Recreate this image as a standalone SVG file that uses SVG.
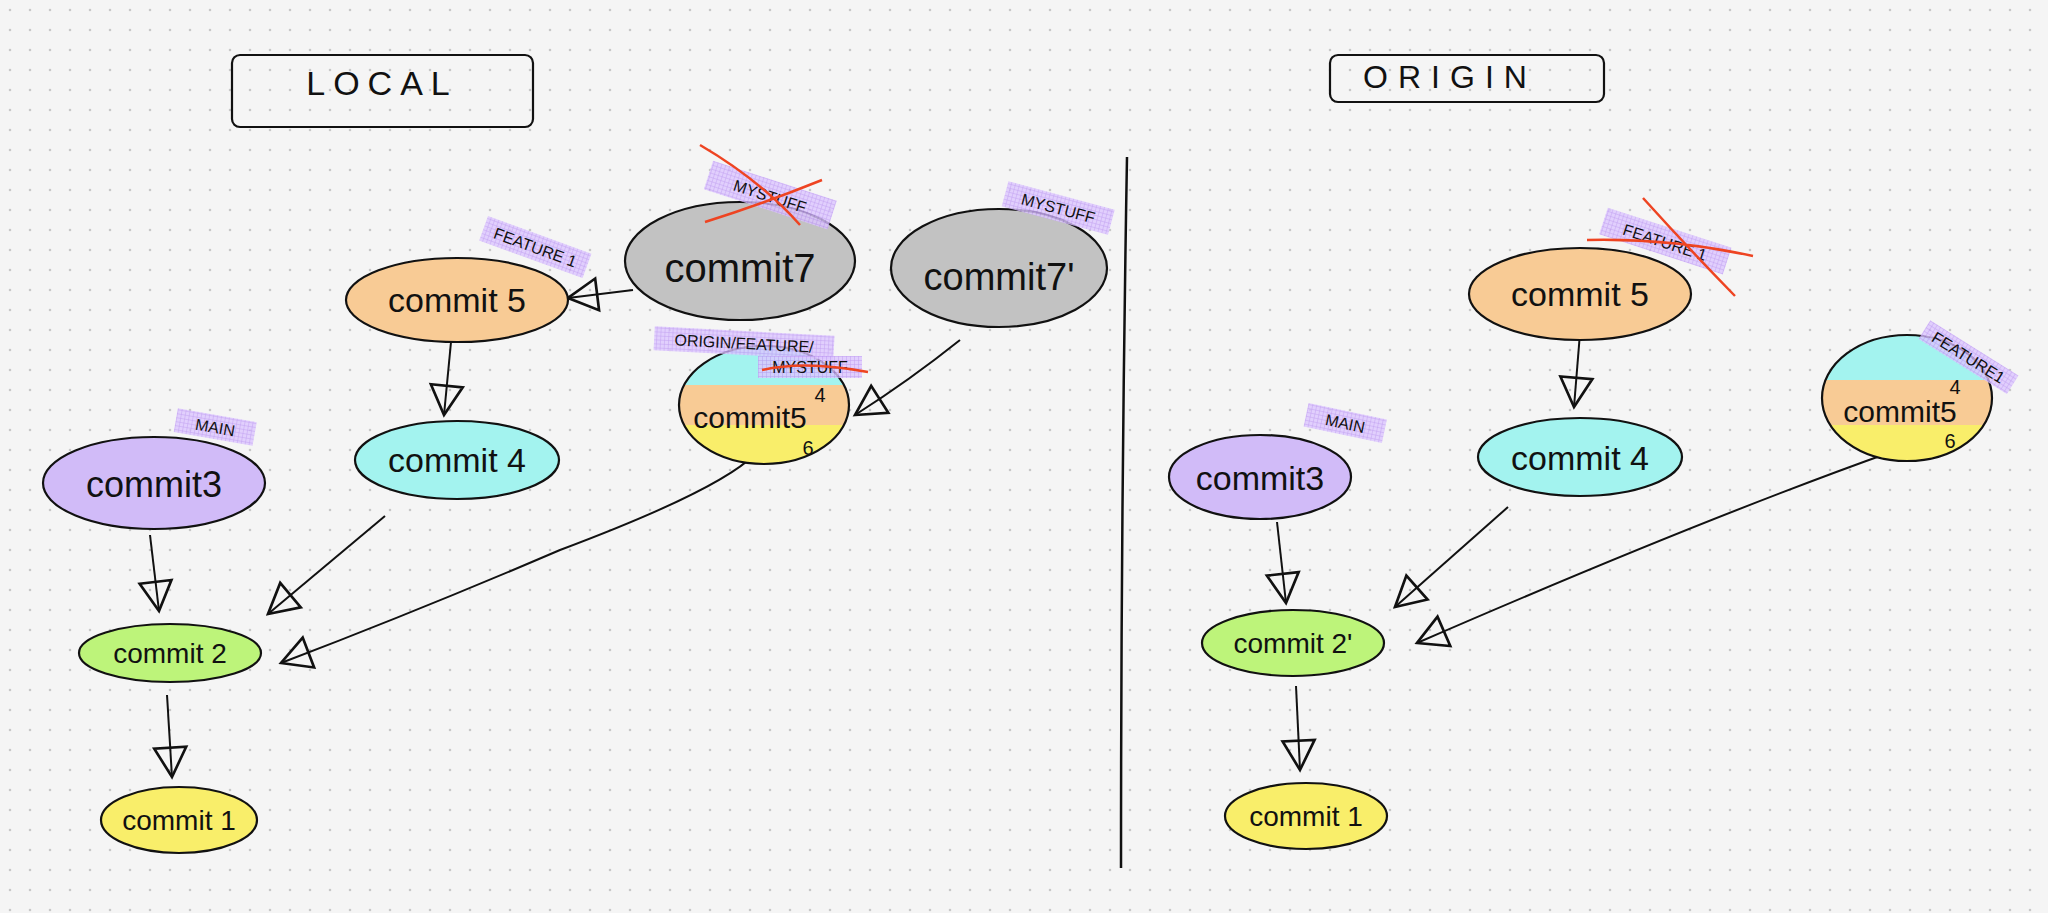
<svg xmlns="http://www.w3.org/2000/svg" width="2048" height="913" viewBox="0 0 2048 913">
<defs>
<pattern id="dots" width="20" height="20" patternUnits="userSpaceOnUse"><circle cx="10" cy="10" r="1.3" fill="#c8c8c8"/></pattern>
<pattern id="grid" width="4" height="4" patternUnits="userSpaceOnUse"><rect width="4" height="4" fill="#dcc6ff"/><path d="M0 0H4M0 0V4" stroke="#b48af0" stroke-width="1"/></pattern>
<marker id="ah" markerWidth="40" markerHeight="40" viewBox="-2 -14 30 28" refX="24" refY="0" orient="auto" markerUnits="userSpaceOnUse"><path d="M24 0 L2 -12 L2 12 Z" fill="none" stroke="#111" stroke-width="2"/></marker>
<clipPath id="c1"><ellipse cx="764" cy="405" rx="85" ry="59"/></clipPath>
<clipPath id="c2"><ellipse cx="1907" cy="398" rx="85" ry="63"/></clipPath>
</defs>
<style>
.n{stroke:#111;stroke-width:2.2}
.t{font-family:"Liberation Sans",sans-serif;fill:#111;text-anchor:middle}
.big{font-size:34px}
.tag{font-size:16px;font-family:"Liberation Sans",sans-serif;fill:#111;text-anchor:middle}
.c{fill:none;stroke:#111;stroke-width:2;marker-end:url(#ah)}
.x{stroke:#ee4422;stroke-width:2.5;fill:none}
</style>
<rect width="2048" height="913" fill="#f5f5f5"/>
<rect width="2048" height="913" fill="url(#dots)"/>

<g id="title-local"><rect x="232" y="55" width="301" height="72" rx="8" fill="none" stroke="#111" stroke-width="2.2"/><text x="382" y="95" class="t" font-size="34" letter-spacing="8">LOCAL</text></g>
<g id="title-origin"><rect x="1330" y="55" width="274" height="47" rx="8" fill="none" stroke="#111" stroke-width="2.2"/><text x="1450" y="88" class="t" font-size="32" letter-spacing="10">ORIGIN</text></g>
<g id="divider"><path d="M1127 157 Q1121 500 1121 868" fill="none" stroke="#111" stroke-width="2.5"/></g>

<g id="connectors">
<path class="c" d="M633 290 L568 298"/>
<path class="c" d="M451 342 L444 415"/>
<path class="c" d="M385 516 L268 614"/>
<path class="c" d="M150 535 L159 611"/>
<path class="c" d="M755 454 Q720 490 560 550 Q420 610 281 663"/>
<path class="c" d="M960 340 Q910 380 855 415"/>
<path class="c" d="M167 695 L172 777"/>
<path class="c" d="M1580 333 L1574 407"/>
<path class="c" d="M1508 507 L1395 607"/>
<path class="c" d="M1277 522 L1286 603"/>
<path class="c" d="M1894 451 Q1700 520 1417 643"/>
<path class="c" d="M1296 686 L1300 770"/>
</g>

<g id="local-commit5"><ellipse cx="457" cy="300" rx="111" ry="42" fill="#f8cb95" class="n"/><text x="457" y="312" class="t big">commit 5</text></g>
<g id="local-commit7"><ellipse cx="740" cy="261" rx="115" ry="59" fill="#c2c2c2" class="n"/><text x="740" y="282" class="t" font-size="40">commit7</text></g>
<g id="local-commit7p"><ellipse cx="999" cy="268" rx="108" ry="59" fill="#c2c2c2" class="n"/><text x="999" y="290" class="t" font-size="38">commit7'</text></g>
<g id="local-commit4"><ellipse cx="457" cy="460" rx="102" ry="39" fill="#a3f3ef" class="n"/><text x="457" y="472" class="t big">commit 4</text></g>
<g id="local-commit456"><g clip-path="url(#c1)"><rect x="670" y="340" width="190" height="45" fill="#a3f3ef"/><rect x="670" y="385" width="190" height="40" fill="#f8cb95"/><rect x="670" y="425" width="190" height="50" fill="#f9ee6a"/></g><ellipse cx="764" cy="405" rx="85" ry="59" fill="none" class="n"/><text x="750" y="428" class="t" font-size="30">commit5</text><text x="820" y="402" class="t" font-size="20">4</text><text x="808" y="455" class="t" font-size="20">6</text></g>
<g id="local-commit3"><ellipse cx="154" cy="483" rx="111" ry="46" fill="#d1bbf8" class="n"/><text x="154" y="497" class="t" font-size="36">commit3</text></g>
<g id="local-commit2"><ellipse cx="170" cy="653" rx="91" ry="29" fill="#bdf47a" class="n"/><text x="170" y="663" class="t" font-size="28">commit 2</text></g>
<g id="local-commit1"><ellipse cx="179" cy="820" rx="78" ry="33" fill="#f9ee6a" class="n"/><text x="179" y="830" class="t" font-size="28">commit 1</text></g>

<g id="origin-commit5"><ellipse cx="1580" cy="294" rx="111" ry="46" fill="#f8cb95" class="n"/><text x="1580" y="306" class="t big">commit 5</text></g>
<g id="origin-commit4"><ellipse cx="1580" cy="457" rx="102" ry="39" fill="#a3f3ef" class="n"/><text x="1580" y="470" class="t big">commit 4</text></g>
<g id="origin-commit456"><g clip-path="url(#c2)"><rect x="1810" y="330" width="190" height="50" fill="#a3f3ef"/><rect x="1810" y="380" width="190" height="45" fill="#f8cb95"/><rect x="1810" y="425" width="190" height="50" fill="#f9ee6a"/></g><ellipse cx="1907" cy="398" rx="85" ry="63" fill="none" class="n"/><text x="1900" y="422" class="t" font-size="30">commit5</text><text x="1955" y="394" class="t" font-size="20">4</text><text x="1950" y="448" class="t" font-size="20">6</text></g>
<g id="origin-commit3"><ellipse cx="1260" cy="477" rx="91" ry="42" fill="#d1bbf8" class="n"/><text x="1260" y="490" class="t" font-size="34">commit3</text></g>
<g id="origin-commit2p"><ellipse cx="1293" cy="643" rx="91" ry="33" fill="#bdf47a" class="n"/><text x="1293" y="653" class="t" font-size="28">commit 2'</text></g>
<g id="origin-commit1"><ellipse cx="1306" cy="816" rx="81" ry="33" fill="#f9ee6a" class="n"/><text x="1306" y="826" class="t" font-size="28">commit 1</text></g>

<g id="tags">
<g transform="translate(215,428) rotate(10)"><rect x="-40" y="-13" width="80" height="24" fill="url(#grid)" opacity="0.8"/><text class="tag" y="5">MAIN</text></g>
<g transform="translate(535,248) rotate(20)"><rect x="-55" y="-14" width="110" height="26" fill="url(#grid)" opacity="0.8"/><text class="tag" y="5">FEATURE 1</text></g>
<g transform="translate(770,196) rotate(18)"><rect x="-65" y="-16" width="130" height="30" fill="url(#grid)" opacity="0.8"/><text class="tag" y="6" font-size="20">MYSTUFF</text></g>
<path class="x" d="M700 145 Q760 180 800 225 M822 180 Q760 205 705 222"/>
<g transform="translate(1058,209) rotate(15)"><rect x="-55" y="-14" width="110" height="26" fill="url(#grid)" opacity="0.8"/><text class="tag" y="5">MYSTUFF</text></g>
<g transform="translate(744,344) rotate(3)"><rect x="-90" y="-13" width="180" height="24" fill="url(#grid)" opacity="0.8"/><text class="tag" y="5">ORIGIN/FEATURE/</text></g>
<g transform="translate(810,368)"><rect x="-52" y="-12" width="104" height="22" fill="url(#grid)" opacity="0.8"/><text class="tag" y="5">MYSTUFF</text></g>
<path class="x" d="M762 370 Q805 360 868 372"/>
<g transform="translate(1345,424) rotate(12)"><rect x="-40" y="-13" width="80" height="24" fill="url(#grid)" opacity="0.8"/><text class="tag" y="5">MAIN</text></g>
<g transform="translate(1665,242) rotate(18)"><rect x="-65" y="-15" width="130" height="28" fill="url(#grid)" opacity="0.8"/><text class="tag" y="6" font-size="18">FEATURE 1</text></g>
<path class="x" d="M1587 240 Q1670 238 1753 256 M1643 198 Q1690 250 1735 296"/>
<g transform="translate(1968,358) rotate(32)"><rect x="-52" y="-12" width="104" height="22" fill="url(#grid)" opacity="0.8"/><text class="tag" y="5">FEATURE1</text></g>
</g>
</svg>
